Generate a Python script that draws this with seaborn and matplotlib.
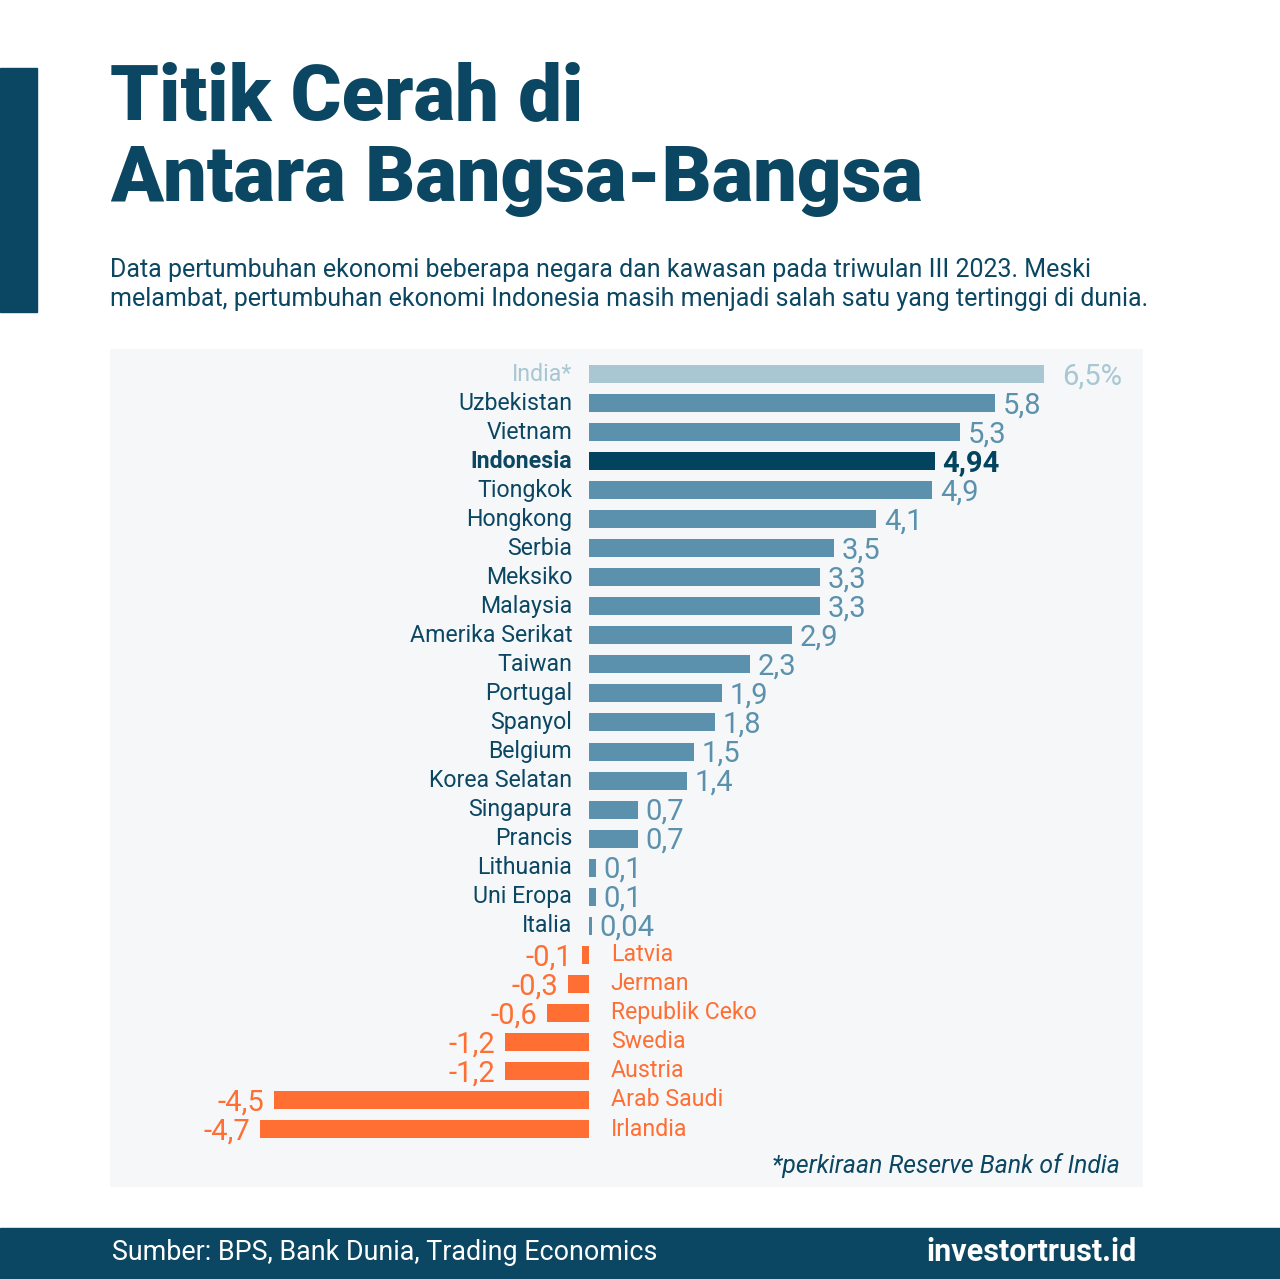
import matplotlib
matplotlib.use('Agg')
import matplotlib.pyplot as plt
import seaborn as sns
import pandas as pd

# %% Data
countries = ['India*', 'Uzbekistan', 'Vietnam', 'Indonesia', 'Tiongkok', 'Hongkong', 'Serbia',
             'Meksiko', 'Malaysia', 'Amerika Serikat', 'Taiwan', 'Portugal', 'Spanyol', 'Belgium',
             'Korea Selatan', 'Singapura', 'Prancis', 'Lithuania', 'Uni Eropa', 'Italia',
             'Latvia', 'Jerman', 'Republik Ceko', 'Swedia', 'Austria', 'Arab Saudi', 'Irlandia']
growth = [6.5, 5.8, 5.3, 4.94, 4.9, 4.1, 3.5, 3.3, 3.3, 2.9, 2.3, 1.9, 1.8, 1.5, 1.4, 0.7, 0.7,
          0.1, 0.1, 0.04, -0.1, -0.3, -0.6, -1.2, -1.2, -4.5, -4.7]
value_labels = ['6,5%', '5,8', '5,3', '4,94', '4,9', '4,1', '3,5', '3,3', '3,3', '2,9', '2,3',
                '1,9', '1,8', '1,5', '1,4', '0,7', '0,7', '0,1', '0,1', '0,04', '-0,1', '-0,3',
                '-0,6', '-1,2', '-1,2', '-4,5', '-4,7']

DARK = '#0b4763'
BLUE = '#5b91ad'
LIGHT = '#a9c6d3'
NAVY = '#02435f'
ORANGE = '#ff6e33'

def bar_color(name, v):
    if name == 'India*':
        return LIGHT
    if name == 'Indonesia':
        return NAVY
    return ORANGE if v < 0 else BLUE

colors = {c: bar_color(c, v) for c, v in zip(countries, growth)}
df = pd.DataFrame({'Negara': countries, 'Pertumbuhan': growth})

# %% Figure
plt.rcParams['font.family'] = ['Roboto', 'DejaVu Sans']
fig = plt.figure(figsize=(12.8, 12.79), dpi=100)
W, H = 1280, 1279

def fx(px):
    return px / W

def fy(py):
    return 1 - py / H

# left accent bar and footer band
fig.patches.append(plt.Rectangle((0, fy(312)), fx(37), fy(68) - fy(312), transform=fig.transFigure,
                                 color=DARK, zorder=0))
fig.patches.append(plt.Rectangle((0, 0), 1, fy(1228), transform=fig.transFigure, color=DARK, zorder=0))

fig.text(fx(110), fy(98), 'Titik Cerah di', fontsize=56, fontweight='black', color=DARK, va='center')
fig.text(fx(110), fy(180), 'Antara Bangsa-Bangsa', fontsize=56, fontweight='black', color=DARK,
         va='center')
fig.text(fx(110), fy(270), 'Data pertumbuhan ekonomi beberapa negara dan kawasan pada triwulan III 2023. Meski',
         fontsize=18, color=DARK, va='center')
fig.text(fx(110), fy(299), 'melambat, pertumbuhan ekonomi Indonesia masih menjadi salah satu yang tertinggi di dunia.',
         fontsize=18, color=DARK, va='center')

fig.text(fx(112), fy(1252), 'Sumber: BPS, Bank Dunia, Trading Economics', fontsize=19.4, color='white',
         va='center')
fig.text(fx(1137), fy(1252), 'investortrust.id', fontsize=22, fontweight='bold', color='white',
         va='center', ha='right')

# %% Chart
ax = fig.add_axes([fx(110), fy(1187), fx(1143) - fx(110), fy(349) - fy(1187)])
sns.barplot(data=df, x='Pertumbuhan', y='Negara', hue='Negara', palette=colors, legend=False,
            orient='h', width=0.62, ax=ax, saturation=1)
ax.set_facecolor('#f5f7f8')

scale = 70.0
ax.set_xlim((110 - 589) / scale, (1143 - 589) / scale)
ax.set_ylim((1187 - 374) / 29.04, (349 - 374) / 29.04)
ax.set_xticks([])
ax.set_yticks([])
ax.set_xlabel('')
ax.set_ylabel('')
for s in ax.spines.values():
    s.set_visible(False)

for i, (name, v, lab) in enumerate(zip(countries, growth, value_labels)):
    c = colors[name]
    name_color = LIGHT if name == 'India*' else DARK
    weight = 'bold' if name == 'Indonesia' else 'normal'
    if v >= 0:
        gap = 0.26 if name == 'India*' else 0.11
        ax.text(-0.24, i, name, ha='right', va='center', fontsize=16.7, color=name_color, fontweight=weight)
        ax.text(v + gap, i + 0.08, lab, ha='left', va='center', fontsize=21, color=c, fontweight=weight)
    else:
        ax.text(0.31, i, name, ha='left', va='center', fontsize=16.7, color=ORANGE)
        ax.text(v - 0.14, i + 0.08, lab, ha='right', va='center', fontsize=21, color=ORANGE)

ax.text((1120 - 589) / scale, (1166 - 374) / 29.04, '*perkiraan Reserve Bank of India', ha='right',
        va='center', fontsize=17.8, style='italic', color=DARK)

fig.savefig('out.png', dpi=100, facecolor='white')
